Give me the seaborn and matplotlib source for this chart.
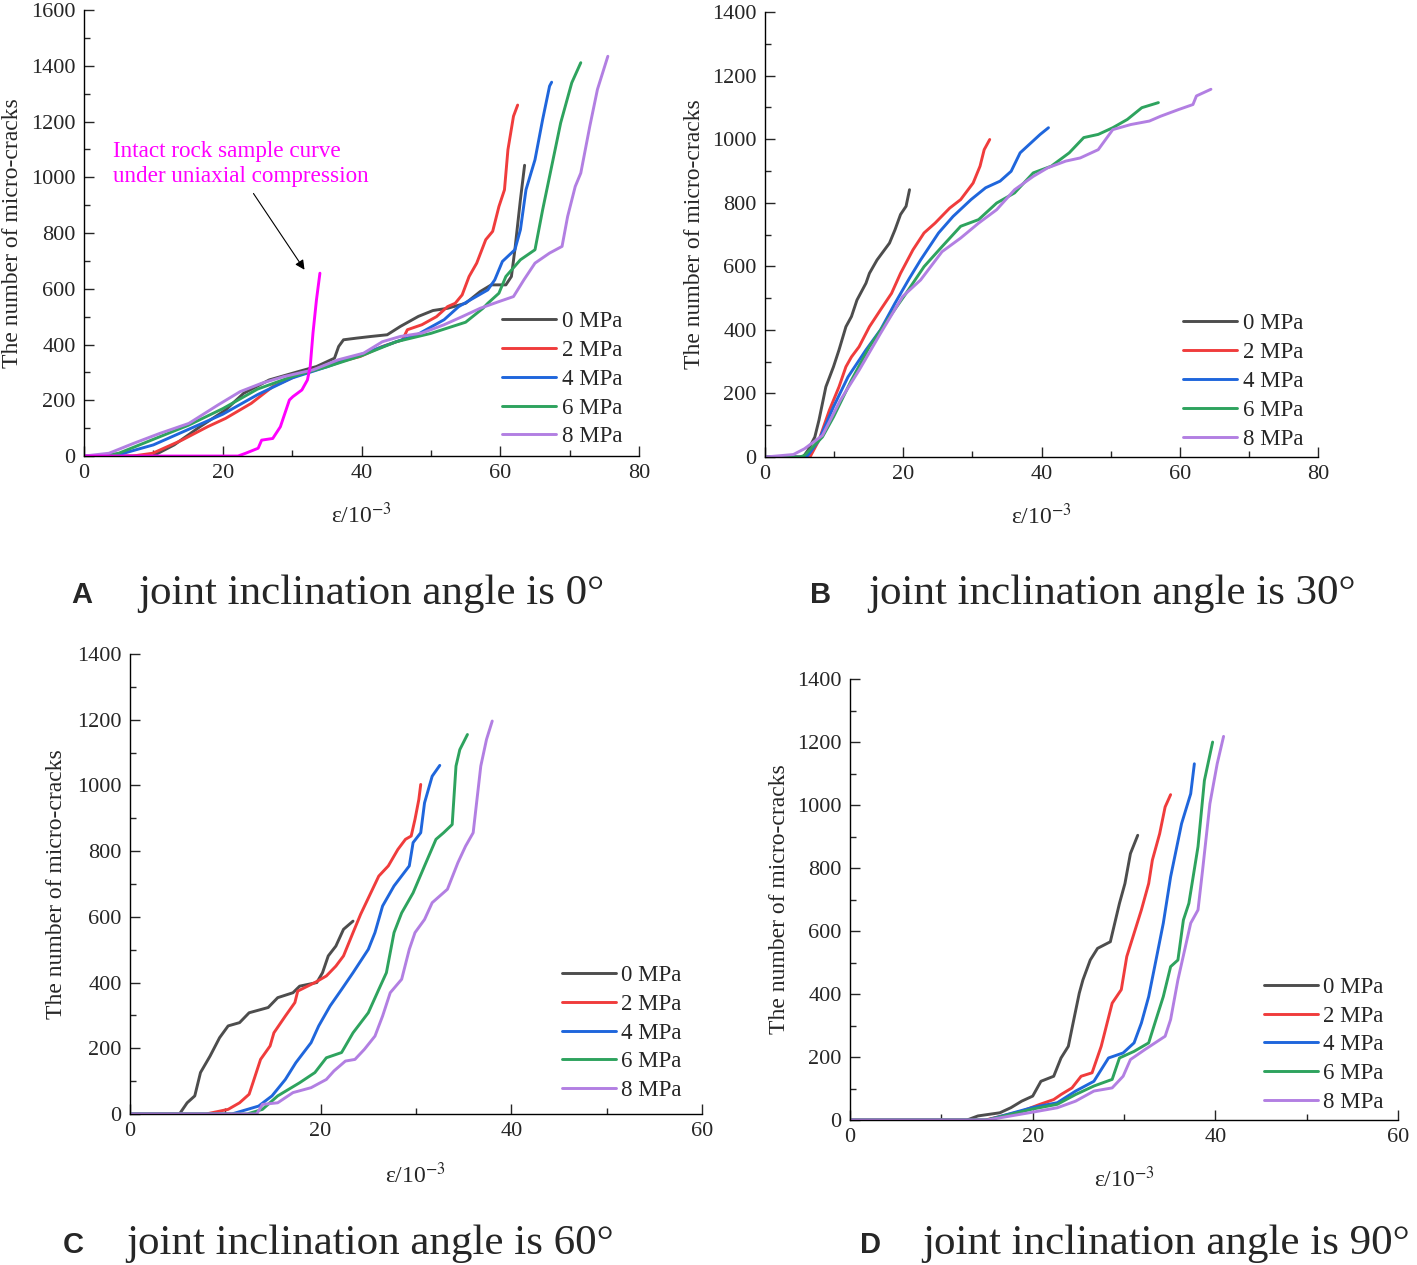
import pandas as pd
import matplotlib
matplotlib.use('Agg')
import matplotlib.pyplot as plt
import seaborn as sns
from matplotlib.ticker import MultipleLocator

# ---- data: (strain 1e-3, number of micro-cracks) ----
labels = ['0 MPa', '2 MPa', '4 MPa', '6 MPa', '8 MPa']
colors = ['#4d4d4d', '#f03c3c', '#1f66dc', '#2ea35e', '#b27fe2']

# A: joint inclination 0 deg
a_0 = [(0, 0), (9.9, 0), (13.0, 40), (16.7, 105), (20.4, 165), (23.0, 225), (26.7, 273), (30.9, 303),
       (33.5, 321), (36.1, 351), (36.7, 393), (37.4, 417), (39.3, 423), (41.4, 429), (43.7, 435),
       (45.6, 465), (48.2, 501), (50.3, 522), (52.4, 530), (55.0, 548), (57.1, 590), (58.7, 614),
       (60.8, 614), (61.6, 644), (62.1, 740), (62.9, 920), (63.5, 1043)]
a_2 = [(0, 0), (7.0, 0), (9.9, 10), (14.1, 57), (17.8, 105), (20.4, 135), (24.1, 189), (27.2, 249),
       (30.9, 291), (35.1, 327), (39.8, 357), (43.0, 393), (45.9, 417), (46.6, 453), (48.7, 471),
       (50.8, 500), (52.4, 536), (53.5, 548), (54.5, 578), (55.5, 644), (56.6, 692), (57.9, 776),
       (58.9, 806), (59.8, 895), (60.6, 955), (61.1, 1099), (61.9, 1219), (62.5, 1259)]
a_4 = [(0, 0), (5, 5), (10, 40), (15, 95), (20, 150), (25, 220), (30, 280), (35, 320), (40, 365),
       (45, 410), (48, 435), (51.9, 489), (54.0, 536), (56.1, 566), (58.2, 596), (59.2, 632),
       (60.3, 698), (62.1, 740), (62.9, 812), (63.7, 955), (65.0, 1063), (66.1, 1207), (67.1, 1327),
       (67.4, 1341)]
a_6 = [(0, 0), (3, 2), (5, 10), (10, 60), (15, 110), (20, 170), (25, 240), (30, 285), (35, 320),
       (40, 360), (45, 410), (50, 440), (55, 480), (57.5, 530), (58.2, 548), (59.8, 584), (60.8, 644),
       (62.9, 704), (65.0, 740), (66.1, 883), (67.4, 1039), (68.7, 1195), (70.3, 1339), (71.6, 1411)]
a_8 = [(0, 0), (3.6, 10), (7.2, 46), (10.9, 81), (15.1, 117), (19.3, 183), (22.5, 231), (25.6, 261),
       (28.8, 285), (33.0, 309), (36.6, 345), (40.3, 369), (43.0, 410), (45.6, 429), (48.7, 441),
       (51.9, 471), (54.5, 500), (57.1, 530), (59.8, 554), (61.9, 572), (63.4, 632), (65.0, 692),
       (67.1, 728), (68.9, 752), (69.7, 859), (70.8, 967), (71.6, 1015), (72.9, 1183), (74.0, 1315),
       (75.5, 1434)]
intact = [(0, 0), (22.2, 0), (23.3, 10), (25.1, 28), (25.6, 57), (27.2, 63), (28.3, 105), (29.6, 201),
          (30.1, 213), (31.4, 237), (32.2, 273), (32.6, 321), (33.0, 441), (33.5, 560), (34.0, 656)]

# B: joint inclination 30 deg
b_0 = [(0, 0), (5.5, 0), (6.2, 21), (7.2, 63), (7.8, 116), (8.8, 221), (9.9, 284), (10.7, 337),
       (11.7, 410), (12.5, 442), (13.3, 494), (14.6, 547), (15.1, 578), (16.2, 620), (18.0, 673),
       (18.8, 715), (19.6, 763), (20.4, 789), (20.9, 841)]
b_2 = [(0, 0), (6.5, 0), (7.8, 53), (9.3, 147), (10.7, 221), (11.7, 284), (12.5, 315), (13.6, 347),
       (15.1, 410), (16.7, 463), (18.3, 515), (19.6, 578), (21.4, 652), (23.0, 705), (24.6, 736),
       (26.7, 783), (28.3, 810), (30.1, 862), (31.1, 915), (31.7, 967), (32.5, 999)]
b_4 = [(0, 0), (5.5, 0), (6.2, 5), (7.8, 53), (9.9, 158), (12.0, 252), (14.6, 337), (16.7, 400),
       (18.8, 484), (20.9, 563), (22.5, 620), (25.1, 705), (27.2, 757), (29.8, 810), (31.9, 847),
       (34.0, 868), (35.6, 899), (36.9, 957), (38.2, 983), (39.8, 1015), (41.0, 1036)]
b_6 = [(0, 0), (5.0, 0), (5.7, 5), (8.3, 63), (9.9, 126), (12.5, 242), (15.1, 347), (17.7, 431),
       (20.4, 515), (23.0, 599), (25.6, 662), (28.3, 726), (30.9, 747), (33.5, 799), (36.1, 831),
       (38.8, 894), (41.4, 915), (44.0, 957), (46.1, 1005), (48.2, 1015), (50.3, 1036), (52.4, 1062),
       (54.5, 1099), (56.9, 1115)]
b_8 = [(0, 0), (4.1, 8), (5.7, 26), (8.3, 68), (10.9, 179), (13.6, 273), (16.7, 389), (19.9, 505),
       (22.5, 557), (25.6, 646), (28.3, 689), (30.9, 736), (33.5, 778), (36.1, 841), (38.8, 883),
       (40.9, 910), (43.5, 931), (45.6, 941), (48.2, 967), (50.3, 1030), (52.9, 1046), (55.6, 1057),
       (57.2, 1072), (59.8, 1093), (61.9, 1109), (62.4, 1136), (64.5, 1157)]

# C: joint inclination 60 deg
c_0 = [(0, 0), (5.2, 0), (6.0, 34), (6.8, 55), (7.4, 126), (8.4, 176), (9.4, 232), (10.3, 268),
       (11.5, 278), (12.5, 308), (14.5, 324), (15.5, 354), (17.1, 369), (17.8, 389), (19.6, 400),
       (20.2, 430), (20.8, 481), (21.6, 511), (22.4, 562), (23.4, 587)]
c_2 = [(0, 0), (8.0, 0), (10.3, 14), (11.5, 34), (12.5, 60), (12.9, 95), (13.7, 166), (14.7, 207),
       (15.1, 247), (16.3, 298), (17.3, 339), (17.6, 374), (19.4, 400), (20.6, 420), (21.6, 450),
       (22.4, 481), (23.4, 552), (24.2, 608), (25.1, 663), (26.1, 724), (27.1, 755), (28.1, 805),
       (28.9, 836), (29.5, 846), (29.9, 897), (30.3, 957), (30.5, 1003)]
c_4 = [(0, 0), (10.7, 0), (13.5, 24), (14.9, 55), (16.3, 105), (17.4, 156), (19.0, 217), (19.8, 268),
       (21.0, 329), (22.2, 379), (23.4, 430), (25.0, 501), (25.7, 552), (26.5, 633), (27.7, 694),
       (29.3, 755), (29.7, 826), (30.5, 856), (30.9, 947), (31.7, 1028), (32.5, 1061)]
c_6 = [(0, 0), (12.3, 0), (13.9, 14), (15.5, 55), (17.8, 95), (19.4, 126), (20.6, 171), (22.2, 187),
       (23.4, 247), (25.0, 308), (26.1, 379), (26.9, 430), (27.7, 552), (28.5, 612), (29.7, 673),
       (30.9, 755), (32.1, 836), (32.9, 856), (33.8, 881), (34.2, 1059), (34.6, 1109), (35.4, 1155)]
c_8 = [(0, 0), (13.3, 0), (13.9, 29), (15.5, 34), (17.1, 65), (19.0, 80), (20.6, 105), (21.4, 131),
       (22.6, 161), (23.6, 166), (24.6, 197), (25.7, 237), (26.5, 298), (27.3, 369), (28.5, 410),
       (29.3, 501), (29.9, 552), (30.9, 592), (31.7, 643), (33.3, 684), (34.4, 765), (35.2, 815),
       (36.0, 856), (36.8, 1059), (37.4, 1140), (38.0, 1196)]

# D: joint inclination 90 deg
d_0 = [(0, 0), (12.8, 0), (14.0, 13), (16.4, 23), (17.6, 39), (18.8, 60), (20.0, 76), (20.9, 123),
       (22.3, 139), (23.1, 197), (23.9, 234), (24.5, 319), (25.1, 403), (25.5, 445), (26.3, 508),
       (27.1, 545), (28.5, 566), (29.5, 688), (30.1, 751), (30.7, 846), (31.5, 904)]
d_2 = [(0, 0), (14.8, 0), (18.8, 28), (20.8, 50), (22.3, 65), (23.1, 81), (24.3, 102), (25.3, 139),
       (26.5, 150), (27.5, 234), (28.7, 371), (29.7, 414), (30.3, 519), (31.1, 593), (31.9, 667),
       (32.7, 751), (33.1, 825), (33.9, 909), (34.5, 994), (35.1, 1033)]
d_4 = [(0, 0), (15.0, 0), (20.0, 40), (22.7, 55), (24.7, 92), (26.7, 123), (28.3, 197), (29.9, 213),
       (31.1, 245), (31.9, 308), (32.7, 392), (33.5, 508), (34.3, 625), (35.1, 772), (36.3, 941),
       (37.3, 1036), (37.7, 1131)]
d_6 = [(0, 0), (15.0, 0), (20.0, 35), (22.7, 50), (24.7, 81), (26.7, 108), (28.7, 129), (29.5, 197),
       (31.1, 218), (32.7, 245), (33.5, 319), (34.3, 392), (35.1, 487), (35.9, 508), (36.5, 635),
       (37.1, 688), (38.1, 868), (38.8, 1078), (39.7, 1200)]
d_8 = [(0, 0), (15.0, 0), (20.0, 25), (22.7, 39), (24.7, 60), (26.7, 92), (28.7, 102), (29.9, 139),
       (30.7, 192), (32.3, 224), (34.5, 266), (35.1, 319), (35.9, 445), (37.3, 625), (38.1, 667),
       (38.6, 793), (39.4, 1004), (40.2, 1131), (40.9, 1218)]

panel_letters = ['A', 'B', 'C', 'D']
panel_titles = ['joint inclination angle is 0°', 'joint inclination angle is 30°',
                'joint inclination angle is 60°', 'joint inclination angle is 90°']
panel_series = [[a_0, a_2, a_4, a_6, a_8], [b_0, b_2, b_4, b_6, b_8],
                [c_0, c_2, c_4, c_6, c_8], [d_0, d_2, d_4, d_6, d_8]]
panel_xmax = [80, 80, 60, 60]
panel_ymax = [1600, 1400, 1400, 1400]

sns.set_style('ticks')
plt.rcParams['font.family'] = ['Liberation Serif', 'DejaVu Serif']
plt.rcParams['mathtext.fontset'] = 'stix'

fig = plt.figure(figsize=(14.17, 12.65), dpi=100)
# axes rectangles (left, bottom, width, height) in figure fractions
rects = [[0.0593, 0.6395, 0.3917, 0.3526],
         [0.5399, 0.6387, 0.3903, 0.3518],
         [0.0917, 0.1194, 0.4037, 0.3636],
         [0.5999, 0.1146, 0.3867, 0.3486]]
letter_pos = [(0.0505, 0.5232), (0.5713, 0.5232), (0.0442, 0.0095), (0.6066, 0.0095)]
title_pos = [(0.0974, 0.5225), (0.6126, 0.5225), (0.0889, 0.0085), (0.6507, 0.0085)]
legend_anchor = [(0.753, 0.325), (0.756, 0.323), (0.755, 0.324), (0.755, 0.325)]

for i in range(4):
    ax = fig.add_axes(rects[i])
    frames = []
    for lab, pts in zip(labels, panel_series[i]):
        df = pd.DataFrame(pts, columns=['strain', 'cracks'])
        df['load'] = lab
        frames.append(df)
    data = pd.concat(frames, ignore_index=True)
    sns.lineplot(data=data, x='strain', y='cracks', hue='load', hue_order=labels,
                 palette=colors, sort=False, estimator=None, linewidth=2.1, ax=ax)

    if i == 0:
        idf = pd.DataFrame(intact, columns=['strain', 'cracks'])
        sns.lineplot(data=idf, x='strain', y='cracks', color='#ff00ff', sort=False,
                     estimator=None, linewidth=2.1, ax=ax, legend=False)
        ax.text(4.2, 1047, 'Intact rock sample curve\nunder uniaxial compression',
                color='#ff00ff', fontsize=16.7, ha='left', va='center', linespacing=1.25)
        ax.annotate('', xy=(32.0, 660), xytext=(24.2, 950),
                    arrowprops=dict(arrowstyle='-|>', color='black', lw=0.8,
                                    mutation_scale=14))

    ax.set_xlim(0, panel_xmax[i])
    ax.set_ylim(0, panel_ymax[i])
    ax.xaxis.set_major_locator(MultipleLocator(20))
    ax.xaxis.set_minor_locator(MultipleLocator(10))
    ax.yaxis.set_major_locator(MultipleLocator(200))
    ax.yaxis.set_minor_locator(MultipleLocator(100))
    ax.tick_params(which='both', direction='in', width=1.0, labelsize=16, pad=6)
    ax.tick_params(which='major', length=7)
    ax.tick_params(which='minor', length=4)
    sns.despine(ax=ax)
    for s in ['left', 'bottom']:
        ax.spines[s].set_linewidth(1.0)
        ax.spines[s].set_color('black')

    ax.set_xlabel('ε/10$^{-3}$', fontsize=17, va='center')
    ax.set_ylabel('The number of micro-cracks', fontsize=17, va='center')
    ax.xaxis.set_label_coords(0.5, -0.134)
    ax.yaxis.set_label_coords(-0.128, 0.5)

    ax.legend(loc='upper left', bbox_to_anchor=legend_anchor[i], frameon=False,
              fontsize=16.5, borderpad=0, borderaxespad=0, handlelength=2.35,
              handletextpad=0.25, labelspacing=0.34)

    fig.text(letter_pos[i][0], letter_pos[i][1], panel_letters[i], fontsize=21,
             fontweight='bold', family='Liberation Sans', ha='left', va='baseline')
    fig.text(title_pos[i][0], title_pos[i][1], panel_titles[i], fontsize=31,
             ha='left', va='baseline')

fig.savefig('out.png', dpi=100)
